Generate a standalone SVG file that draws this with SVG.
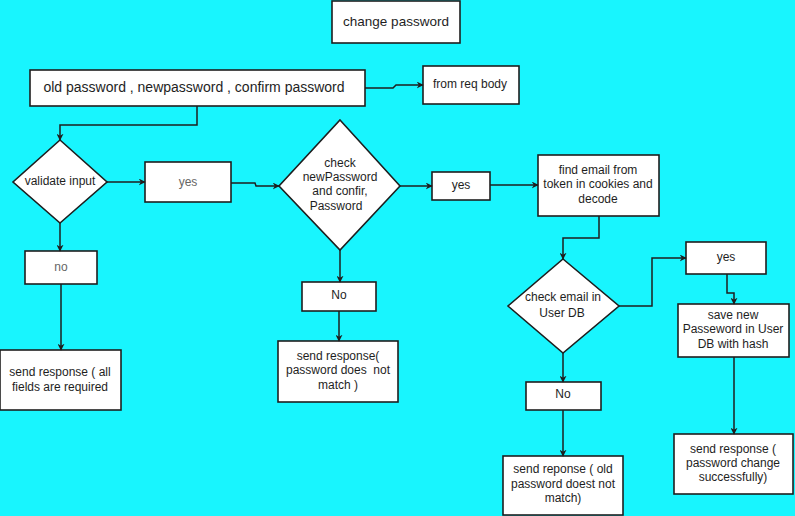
<svg xmlns="http://www.w3.org/2000/svg" width="795" height="516" viewBox="0 0 795 516">
<defs>
<marker id="ah" viewBox="0 0 10 10" refX="9" refY="5" markerWidth="7" markerHeight="7" orient="auto" markerUnits="userSpaceOnUse">
<path d="M0,0 L10,5 L0,10 L3,5 Z" fill="#1e1e1e"/>
</marker>
</defs>
<style>
.bg{fill:#18f5fe}
.box{fill:#ffffff;stroke:#1e1e1e;stroke-width:1.6}
.t{font-family:"Liberation Sans",Arial,sans-serif;font-size:12px;fill:#1e1e1e;text-anchor:middle;dominant-baseline:middle}
.g{fill:#666666}
.c{fill:none;stroke:#1e1e1e;stroke-width:1.5;marker-end:url(#ah)}
</style>
<rect class="bg" x="0" y="0" width="795" height="516"/>

<g id="title">
<rect class="box" x="332" y="1" width="128" height="42"/>
<text class="t" x="396" y="22" style="font-size:13.5px">change password</text>
</g>
<g id="inputs">
<rect class="box" x="30" y="70" width="335" height="36"/>
<text class="t" x="194" y="88" style="font-size:14px">old password , newpassword , confirm password</text>
</g>
<g id="reqbody">
<rect class="box" x="423" y="66" width="96" height="38"/>
<text class="t" x="470" y="85">from req body</text>
</g>
<g id="validate">
<polygon class="box" points="60,140 107,182 60,223 13,182"/>
<text class="t" x="60" y="182">validate input</text>
</g>
<g id="yes1">
<rect class="box" x="145" y="162" width="86" height="40"/>
<text class="t g" x="188" y="183">yes</text>
</g>
<g id="no1">
<rect class="box" x="25" y="251" width="72" height="33"/>
<text class="t g" x="61" y="268">no</text>
</g>
<g id="resp1">
<rect class="box" x="0" y="350" width="121" height="60"/>
<text class="t" x="60" y="373">send response ( all</text>
<text class="t" x="60" y="388">fields are required</text>
</g>
<g id="checkmatch">
<polygon class="box" points="340,120 400,186 340,250 279,186"/>
<text class="t" x="340" y="164">check</text>
<text class="t" x="340" y="178">newPassword</text>
<text class="t" x="340" y="192">and confir,</text>
<text class="t" x="336" y="207">Password</text>
</g>
<g id="no2">
<rect class="box" x="302" y="282" width="74" height="29"/>
<text class="t" x="339" y="296">No</text>
</g>
<g id="resp2">
<rect class="box" x="278" y="341" width="120" height="61"/>
<text class="t" x="338" y="357">send response(</text>
<text class="t" x="338" y="371" xml:space="preserve" style="white-space:pre">password does  not</text>
<text class="t" x="338" y="386">match )</text>
</g>
<g id="yes2">
<rect class="box" x="432" y="172" width="58" height="28"/>
<text class="t" x="461" y="186">yes</text>
</g>
<g id="findemail">
<rect class="box" x="538" y="155" width="121" height="61"/>
<text class="t" x="598" y="171">find email from</text>
<text class="t" x="598" y="185">token in cookies and</text>
<text class="t" x="598" y="200">decode</text>
</g>
<g id="checkemail">
<polygon class="box" points="563,259 619,306 563,353 508,306"/>
<text class="t" x="563" y="298">check email in</text>
<text class="t" x="562" y="314">User DB</text>
</g>
<g id="yes3">
<rect class="box" x="686" y="242" width="80" height="32"/>
<text class="t" x="726" y="258">yes</text>
</g>
<g id="save">
<rect class="box" x="678" y="304" width="111" height="53"/>
<text class="t" x="733" y="316">save new</text>
<text class="t" x="733" y="330">Passeword in User</text>
<text class="t" x="733" y="345">DB with hash</text>
</g>
<g id="resp4">
<rect class="box" x="674" y="434" width="119" height="60"/>
<text class="t" x="733" y="450">send response (</text>
<text class="t" x="733" y="464">password change</text>
<text class="t" x="733" y="478">successfully)</text>
</g>
<g id="no3">
<rect class="box" x="526" y="382" width="75" height="28"/>
<text class="t" x="563" y="395">No</text>
</g>
<g id="resp3">
<rect class="box" x="503" y="456" width="120" height="59"/>
<text class="t" x="563" y="470">send reponse ( old</text>
<text class="t" x="563" y="485">password doest not</text>
<text class="t" x="563" y="499">match)</text>
</g>

<g id="connectors">
<path class="c" d="M365,88 L393,88 L396,85 L423,85"/>
<path class="c" d="M197,106 L197,125 L60,125 L60,140"/>
<path class="c" d="M107,182 L145,182"/>
<path class="c" d="M231,183 L255,183 L256,186 L279,186"/>
<path class="c" d="M400,186 L432,186"/>
<path class="c" d="M490,185 L538,185"/>
<path class="c" d="M599,216 L599,238 L563,238 L563,259"/>
<path class="c" d="M619,306 L652,306 L652,258 L686,258"/>
<path class="c" d="M727,274 L727,293 L734,293 L734,304"/>
<path class="c" d="M734,357 L734,434"/>
<path class="c" d="M563,353 L563,382"/>
<path class="c" d="M563,410 L563,456"/>
<path class="c" d="M60,223 L60,251"/>
<path class="c" d="M61,284 L61,350"/>
<path class="c" d="M340,250 L340,282"/>
<path class="c" d="M339,311 L339,341"/>
</g>
</svg>
